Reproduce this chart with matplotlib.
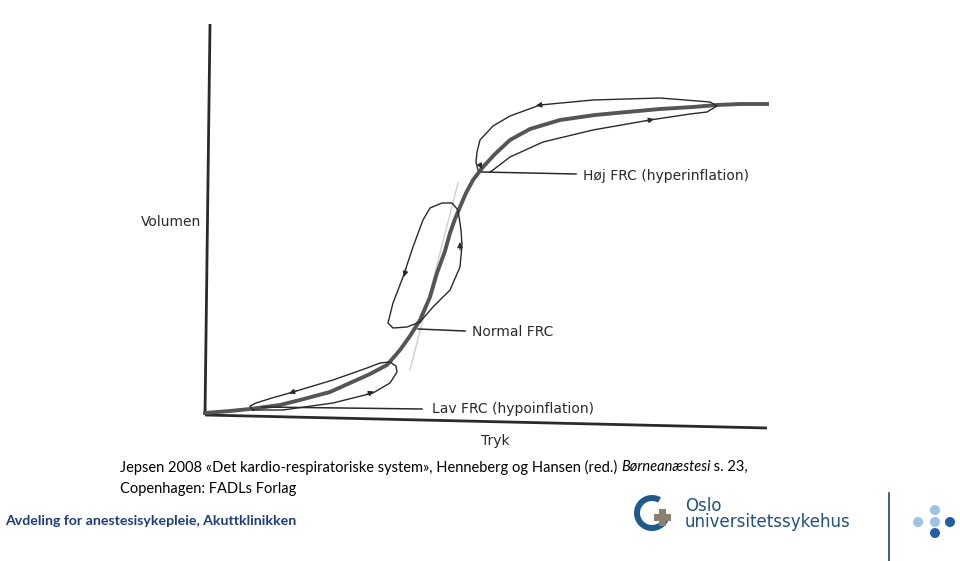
import matplotlib
matplotlib.use("Agg")
import matplotlib.pyplot as plt
from matplotlib.patches import Wedge, Rectangle, Circle

# Diagram traced in picture coordinates (x to the right, y downward)
axis_y_x = [210, 205]
axis_y_y = [24, 415]
axis_x_x = [205, 767]
axis_x_y = [415, 428]

curve_x = [205, 230, 250, 280, 300, 330, 350, 370, 387, 400, 410, 420, 430, 437,
           445, 450, 455, 460, 466, 473, 483, 495, 510, 530, 560, 595, 627, 660,
           693, 717, 740, 767]
curve_y = [413, 411, 409, 405, 400, 392, 383, 374, 365, 350, 336, 320, 297, 273,
           251, 233, 219, 207, 193, 180, 167, 154, 140, 129, 120, 115, 112, 109,
           107, 105, 104, 104]

tangent_x = [458, 410]
tangent_y = [183, 370]

# loops (inflation / deflation hysteresis)
lav_x = [253, 283, 333, 373, 390, 397, 396, 390, 380, 367, 350, 333, 313, 293, 272, 256, 250, 253]
lav_y = [410, 410, 403, 393, 383, 372, 366, 362, 363, 368, 374, 380, 386, 392, 398, 403, 406, 410]

normal_x = [420, 433, 450, 460, 462, 461, 458, 452, 442, 430, 423, 413, 403, 393, 388, 393, 407, 420]
normal_y = [322, 307, 290, 267, 245, 230, 210, 203, 203, 208, 220, 247, 277, 303, 323, 328, 327, 322]

hoj_x = [490, 493, 510, 543, 593, 650, 690, 707, 717, 710, 660, 593, 540, 510, 493, 480, 477, 476, 478]
hoj_y = [172, 170, 157, 142, 130, 120, 114, 112, 106, 102, 98, 100, 105, 116, 126, 140, 152, 162, 170]

# arrows: (x, y, dx, dy)
arrows = [(293, 392, -8, 3), (370, 393, 8, -3),
          (460, 246, 0, -8), (405, 273, -2, 8),
          (540, 105, -8, 1), (650, 120, 8, -2), (481, 167, 2, 4)]

labels = ["Høj FRC (hyperinflation)", "Normal FRC", "Lav FRC (hypoinflation)"]
label_x = [583, 472, 432]
label_y = [176, 332, 409]
leader_x = [(482, 576), (418, 465), (262, 422)]
leader_y = [(172, 174), (329, 331), (407, 409)]

ref_text = ["Jepsen 2008 «Det kardio-respiratoriske system», Henneberg og Hansen (red.) ",
            "Børneanæstesi", " s. 23,", "Copenhagen: FADLs Forlag"]
footer = "Avdeling for anestesisykepleie, Akuttklinikken"
dots_x = [935, 918, 935, 950, 935]
dots_y = [510, 522, 522, 522, 533]
dots_c = ["#9cc4e4", "#9cc4e4", "#9cc4e4", "#1f5fa8", "#1f5fa8"]

ink = "#2a2a2a"
navy = "#1b3a8c"

fig = plt.figure(figsize=(9.6, 5.61), dpi=100)
ax = fig.add_axes([0, 0, 1, 1])
ax.set_xlim(0, 960)
ax.set_ylim(561, 0)
ax.axis("off")

# axes of the diagram
ax.plot(axis_y_x, axis_y_y, color=ink, lw=2.0, solid_capstyle="butt")
ax.plot(axis_x_x, axis_x_y, color=ink, lw=2.0, solid_capstyle="butt")

ax.plot(tangent_x, tangent_y, color="#cfcfcf", lw=1.0)
ax.plot(curve_x, curve_y, color="#555555", lw=2.8, solid_joinstyle="round")

for lx, ly in [(lav_x, lav_y), (normal_x, normal_y), (hoj_x, hoj_y)]:
    ax.plot(lx, ly, color=ink, lw=1.0, solid_joinstyle="round")

for x, y, dx, dy in arrows:
    ax.annotate("", xy=(x + dx * 0.5, y + dy * 0.5), xytext=(x - dx * 0.5, y - dy * 0.5),
                arrowprops=dict(arrowstyle="-|>", color=ink, lw=0.8,
                                mutation_scale=8, shrinkA=0, shrinkB=0))

for lab, tx, ty, lxs, lys in zip(labels, label_x, label_y, leader_x, leader_y):
    ax.plot(lxs, lys, color=ink, lw=1.1)
    ax.text(tx, ty, lab, fontsize=10, color=ink, va="center", ha="left",
            family="DejaVu Sans")

ax.text(171, 222, "Volumen", fontsize=10, color=ink, ha="center", va="center",
        family="DejaVu Sans")
ax.text(495, 441, "Tryk", fontsize=10, color=ink, ha="center", va="center",
        family="DejaVu Sans")

# reference text
fs = 10.5
t = ax.text(120, 467, ref_text[0], fontsize=fs, color="black", va="center",
            family="Lato")
fig.canvas.draw()
x2 = t.get_window_extent().x1
t2 = ax.annotate(ref_text[1], xy=(x2, 561 - 467), xycoords="figure pixels",
                 fontsize=fs, style="italic", family="Lato", va="center")
fig.canvas.draw()
x3 = t2.get_window_extent().x1
ax.annotate(ref_text[2], xy=(x3, 561 - 467), xycoords="figure pixels",
            fontsize=fs, family="Lato", va="center")
ax.text(120, 489, ref_text[3], fontsize=fs, color="black", va="center", family="Lato")

ax.text(5, 521, footer, fontsize=10.2, color=navy, weight="bold", va="center",
        family="Lato")

# logo
ax.add_patch(Wedge((652, 513), 18, 15, 300, width=6, facecolor="#1d5a8e",
                   edgecolor="none"))
ax.add_patch(Rectangle((654, 514), 17, 7, facecolor="#8a8070", edgecolor="none"))
ax.add_patch(Rectangle((659, 509), 7, 17, facecolor="#8a8070", edgecolor="none"))
ax.text(685, 514, "Oslo\nuniversitetssykehus", fontsize=12, color="#1d4f8e",
        va="center", family="DejaVu Sans", linespacing=0.85)
ax.plot([889, 889], [493, 561], color="#1d3f7e", lw=1.2)
for x, y, c in zip(dots_x, dots_y, dots_c):
    ax.add_patch(Circle((x, y), 5, facecolor=c, edgecolor="none"))

fig.savefig("out.png", dpi=100)
